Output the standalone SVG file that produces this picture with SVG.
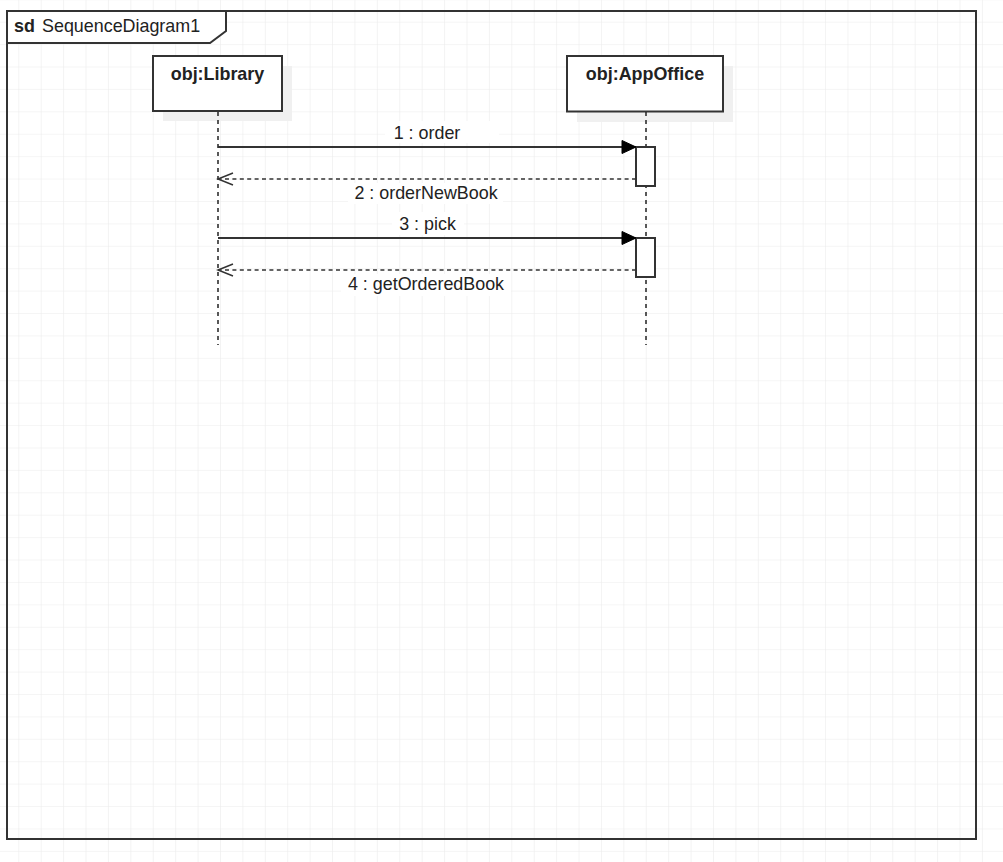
<svg xmlns="http://www.w3.org/2000/svg" width="1003" height="862" viewBox="0 0 1003 862">
<style>
text{font-family:"Liberation Sans",Arial,sans-serif;font-size:17.9px;fill:#222}
.b{font-weight:bold}
.box{fill:#fff;stroke:#333;stroke-width:2}
.shadow{fill:#f0f0f0}
.life{stroke:#222;stroke-width:1.5;stroke-dasharray:4 4;fill:none}
.msg{stroke:#333;stroke-width:2;fill:none}
.ret{stroke:#333;stroke-width:1.5;stroke-dasharray:4 3.4;fill:none}
.lbg{fill:#fff}
</style>
<defs>
<pattern id="grid" patternUnits="userSpaceOnUse" x="18.3" y="21.7" width="22.41" height="22.41">
<path d="M0 0H22.41M0 0V22.41" stroke="#ebebeb" stroke-width="1.2" fill="none"/>
</pattern>
<marker id="fill" markerUnits="userSpaceOnUse" markerWidth="16" markerHeight="16" viewBox="0 0 16 16" refX="15" refY="8" orient="auto">
<path d="M1 1.5L15 8L1 14.5Z" fill="#000" stroke="#000" stroke-width="1"/>
</marker>
<marker id="open" markerUnits="userSpaceOnUse" markerWidth="18" markerHeight="16" viewBox="0 0 18 16" refX="16" refY="8" orient="auto">
<path d="M1 2L16 8L1 14" fill="none" stroke="#333" stroke-width="1.5"/>
</marker>
</defs>
<rect width="1003" height="862" fill="#fff"/>
<rect width="1003" height="862" fill="url(#grid)"/>
<g id="frame">
<rect x="7" y="11" width="969" height="828" fill="none" stroke="#333" stroke-width="2"/>
<path d="M7 11H226V31L210 43H7Z" fill="#fff" stroke="#333" stroke-width="2"/>
<text x="14" y="32" class="b">sd</text>
<text x="42" y="32">SequenceDiagram1</text>
</g>
<g id="library">
<rect class="shadow" x="163" y="66" width="129" height="55"/>
<rect class="box" x="153" y="56" width="129" height="55"/>
<text x="217.5" y="80" class="b" text-anchor="middle">obj:Library</text>
<line class="life" x1="218" y1="112" x2="218" y2="345"/>
</g>
<g id="appoffice">
<rect class="shadow" x="577" y="66" width="156" height="56"/>
<rect class="box" x="567" y="56" width="156" height="55.5"/>
<text x="645" y="80" class="b" text-anchor="middle">obj:AppOffice</text>
<line class="life" x1="646" y1="112" x2="646" y2="345"/>
<rect class="box" x="636" y="147" width="19" height="39"/>
<rect class="box" x="636" y="238" width="19" height="39"/>
</g>
<g id="connectors">
<rect class="lbg" x="385" y="121" width="114" height="22"/>
<line class="msg" x1="218" y1="147" x2="636" y2="147" marker-end="url(#fill)"/>
<text x="427" y="139" text-anchor="middle">1 : order</text>
<line class="ret" x1="636" y1="179" x2="218" y2="179" marker-end="url(#open)"/>
<rect class="lbg" x="348" y="183" width="155" height="21"/>
<text x="426" y="199" text-anchor="middle">2 : orderNewBook</text>
<rect class="lbg" x="392" y="212" width="72" height="23"/>
<line class="msg" x1="218" y1="238" x2="636" y2="238" marker-end="url(#fill)"/>
<text x="427.5" y="230" text-anchor="middle">3 : pick</text>
<line class="ret" x1="636" y1="270" x2="218" y2="270" marker-end="url(#open)"/>
<rect class="lbg" x="341" y="274" width="170" height="22"/>
<text x="426" y="290" text-anchor="middle">4 : getOrderedBook</text>
</g>
</svg>
